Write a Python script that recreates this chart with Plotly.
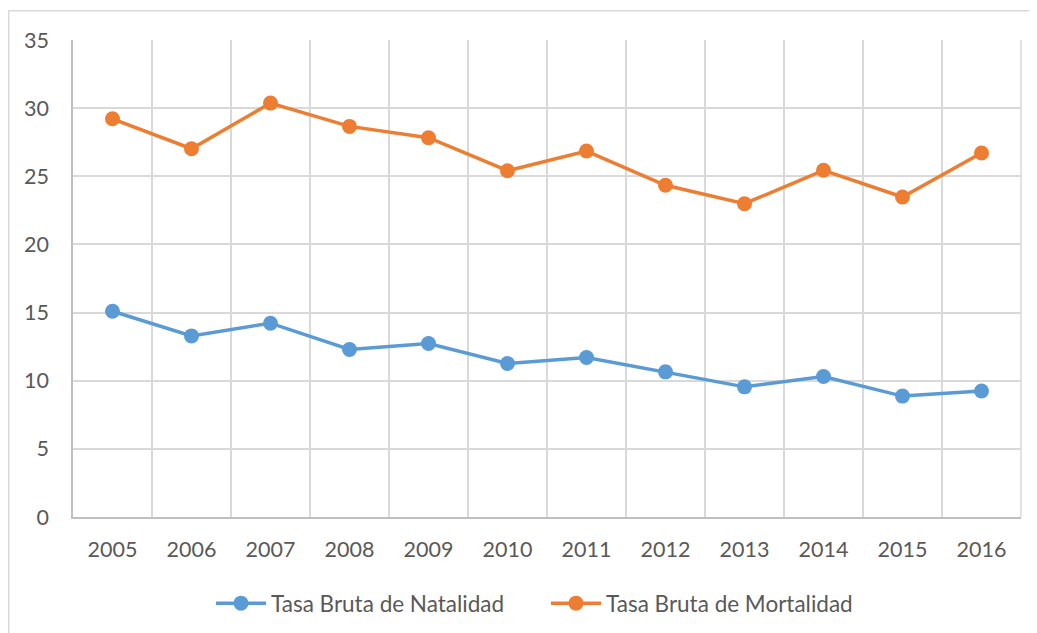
import plotly.graph_objects as go

years = ["2005", "2006", "2007", "2008", "2009", "2010", "2011", "2012", "2013", "2014", "2015", "2016"]
natalidad = [15.10, 13.29, 14.22, 12.29, 12.73, 11.26, 11.70, 10.65, 9.55, 10.31, 8.87, 9.24]
mortalidad = [29.22, 27.02, 30.37, 28.66, 27.83, 25.41, 26.85, 24.34, 22.99, 25.44, 23.48, 26.71]
y_ticks = [0, 5, 10, 15, 20, 25, 30, 35]

blue = "#5B9BD5"
orange = "#ED7D31"
text_color = "#595959"
font_family = "Lato, 'Open Sans', sans-serif"

fig = go.Figure()
fig.add_trace(go.Scatter(
    x=years, y=natalidad, name="Tasa Bruta de Natalidad", mode="lines+markers",
    line=dict(color=blue, width=3.5), marker=dict(color=blue, size=15),
))
fig.add_trace(go.Scatter(
    x=years, y=mortalidad, name="Tasa Bruta de Mortalidad", mode="lines+markers",
    line=dict(color=orange, width=3.5), marker=dict(color=orange, size=15),
))

# page has an 8px body margin; coordinates below are in figure pixels
W, H = 1037, 633
off = 8
left, right, top, bottom = 73 - off, 1021 - off, 40 - off, 517 - off
pw, ph = right - left, bottom - top

fig.update_layout(
    width=W, height=H,
    margin=dict(l=left, r=W - right, t=top, b=H - bottom),
    paper_bgcolor="white", plot_bgcolor="white",
    font=dict(family=font_family, size=22, color=text_color),
    showlegend=True,
    legend=dict(orientation="h", x=(211 - off - left) / pw, xanchor="left",
                y=(bottom - (582 - off)) / ph, yanchor="top",
                font=dict(size=22.5, color=text_color), itemwidth=50,
                entrywidth=270, entrywidthmode="pixels", tracegroupgap=0),
    xaxis=dict(type="category", tickson="boundaries", showgrid=True, gridcolor="#D9D9D9",
               gridwidth=1.5, showline=True, linecolor="#BFBFBF", linewidth=1.5, ticks="",
               tickfont=dict(size=21.5, color=text_color), ticklabelstandoff=12,
               range=[-0.5, 11.5]),
    yaxis=dict(range=[0, 35], tickvals=y_ticks, showgrid=True, gridcolor="#D9D9D9",
               gridwidth=1.5, showline=True, linecolor="#BFBFBF", linewidth=1.5, ticks="",
               tickfont=dict(size=21.5, color=text_color), ticklabelstandoff=18, zeroline=False),
    shapes=[
        dict(type="rect", xref="paper", yref="paper",
             x0=(0.7 - left) / pw, x1=(W + 20 - left) / pw,
             y0=(bottom - (H + 20)) / ph, y1=(bottom - 2.7) / ph,
             line=dict(color="#D9D9D9", width=1.5), fillcolor="rgba(0,0,0,0)", layer="below"),
        dict(type="line", xref="paper", yref="paper", x0=1, x1=1, y0=0, y1=1,
             line=dict(color="#D9D9D9", width=1.5)),
    ],
)

fig.write_html("out.html")
